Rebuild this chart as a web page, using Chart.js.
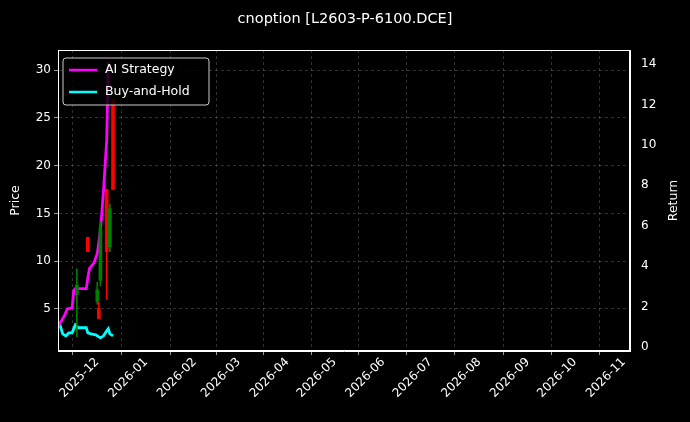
<!DOCTYPE html>
<html><head><meta charset="utf-8">
<script src="https://cdn.jsdelivr.net/npm/chart.js@4"></script>
<style>html,body{margin:0;background:#000}canvas{display:block}</style>
</head><body><div style="width:690px;height:422px"><canvas id="c"></canvas></div>
<script>
const DAY=86400000, T0=Date.UTC(2025,10,6);
const stratDays=[0,4,6,9,10,11,18,19,20,23,25,27,29,31,32];
const stratRet=[1.0,1.54,1.89,1.94,2.79,2.89,2.89,3.43,3.88,4.18,4.63,5.77,7.76,10.25,14.1];
const bhDays=[-1,1,3,5,7,9,11,13,18,19,21,24,27,29,31,32,33,35];
const bhRet=[1.14,1.16,0.65,0.55,0.70,0.70,1.09,0.95,0.95,0.70,0.65,0.60,0.45,0.55,0.80,0.90,0.65,0.55];
const candleDays=[12,19,25,26,27,31,33,35];
const candleLow=[2.1,11.0,5.5,4.0,7.4,6.0,11.0,17.5];
const candleHigh=[9.2,12.5,7.8,5.7,14.1,17.5,16.0,26.9];
const candleOpen=[7.5,12.5,7.0,5.0,8.0,17.5,11.5,26.9];
const candleClose=[6.5,11.0,5.8,4.0,13.5,11.0,15.5,17.5];
const candleUp=[1,0,1,0,1,0,1,0];
const monthTicks=[];for(let m=11;m<=22;m++)monthTicks.push(Date.UTC(2025,m,1));
const t=d=>T0+d*DAY;
const col=candleDays.map((d,i)=>candleUp[i]?'#008000':'#ff0000');
const F='"DejaVu Sans"';
const legendPlugin={id:'lg',afterDraw(c){const g=c.ctx;const a=c.chartArea;
 g.save();g.fillStyle='#fff';g.font='14.5px '+F;g.textAlign='center';g.textBaseline='middle';g.fillText('cnoption [L2603-P-6100.DCE]',345,19);
 g.strokeStyle='#fff';g.lineWidth=1;g.strokeRect(a.left+0.5,a.top+0.5,a.right-a.left-1,a.bottom-a.top-1);
 g.font='12.5px '+F;
 g.save();g.translate(16,(a.top+a.bottom)/2);g.rotate(-Math.PI/2);g.fillText('Price',0,0);g.restore();
 g.save();g.translate(674,(a.top+a.bottom)/2);g.rotate(-Math.PI/2);g.fillText('Return',0,0);g.restore();
 const x=a.left+5,y=a.top+8,w=146,h=47;g.fillStyle='rgba(0,0,0,0.8)';g.strokeStyle='#ccc';
 g.beginPath();g.roundRect(x,y,w,h,3);g.fill();g.stroke();
 const items=[['AI Strategy','#ff00ff'],['Buy-and-Hold','#00ffff']];
 g.textAlign='left';
 items.forEach((it,i)=>{const yy=y+12+i*22;g.strokeStyle=it[1];g.lineWidth=2.5;g.beginPath();g.moveTo(x+6,yy);g.lineTo(x+34,yy);g.stroke();g.fillStyle='#fff';g.fillText(it[0],x+42,yy);});
 g.restore();}};
const grid={color:'rgba(150,150,150,0.55)',lineWidth:0.6,tickColor:'#fff',tickLength:4};
new Chart(document.getElementById('c'),{
 data:{datasets:[
  {type:'bar',label:'wick',data:candleDays.map((d,i)=>({x:t(d),y:[candleLow[i],candleHigh[i]]})),backgroundColor:col,barThickness:1,yAxisID:'y'},
  {type:'bar',label:'body',data:candleDays.map((d,i)=>({x:t(d),y:[Math.min(candleOpen[i],candleClose[i]),Math.max(candleOpen[i],candleClose[i])]})),backgroundColor:col,barThickness:3,yAxisID:'y'},
  {type:'line',label:'AI Strategy',data:stratDays.map((d,i)=>({x:t(d),y:stratRet[i]})),borderColor:'#ff00ff',borderWidth:2.8,pointRadius:0,yAxisID:'y2'},
  {type:'line',label:'Buy-and-Hold',data:bhDays.map((d,i)=>({x:t(d),y:bhRet[i]})),borderColor:'#00ffff',borderWidth:2.8,pointRadius:0,yAxisID:'y2'}
 ]},
 options:{animation:false,responsive:true,maintainAspectRatio:false,layout:{padding:{top:50}},
  plugins:{legend:{display:false},tooltip:{enabled:false}},
  datasets:{bar:{grouped:false}},
  scales:{
   x:{type:'linear',min:T0,max:T0+364*DAY,offset:false,
    afterBuildTicks:s=>{s.ticks=monthTicks.map(v=>({value:v}));},
    afterFit:s=>{s.height=71;},
    ticks:{color:'#fff',font:{size:12,family:'DejaVu Sans'},maxRotation:45,minRotation:45,autoSkip:false,padding:0,
     callback:v=>{const d=new Date(v);return d.getUTCFullYear()+'-'+String(d.getUTCMonth()+1).padStart(2,'0');}},
    grid:Object.assign({},grid),border:{color:'#fff',dash:[3,3]}},
   y:{position:'left',min:0.6,max:32.1,afterFit:s=>{s.width=58;},
    afterBuildTicks:s=>{s.ticks=[5,10,15,20,25,30].map(v=>({value:v}));},
    ticks:{color:'#fff',font:{size:12,family:'DejaVu Sans'}},
    grid:Object.assign({},grid),border:{color:'#fff',dash:[3,3]}},
   y2:{position:'right',min:-0.2,max:14.7,afterFit:s=>{s.width=60;},
    afterBuildTicks:s=>{s.ticks=[0,2,4,6,8,10,12,14].map(v=>({value:v}));},
    ticks:{color:'#fff',font:{size:12,family:'DejaVu Sans'}},
    grid:{display:false,tickColor:'#fff'},border:{color:'#fff'}}
  }},
 plugins:[legendPlugin]
});
</script></body></html>
